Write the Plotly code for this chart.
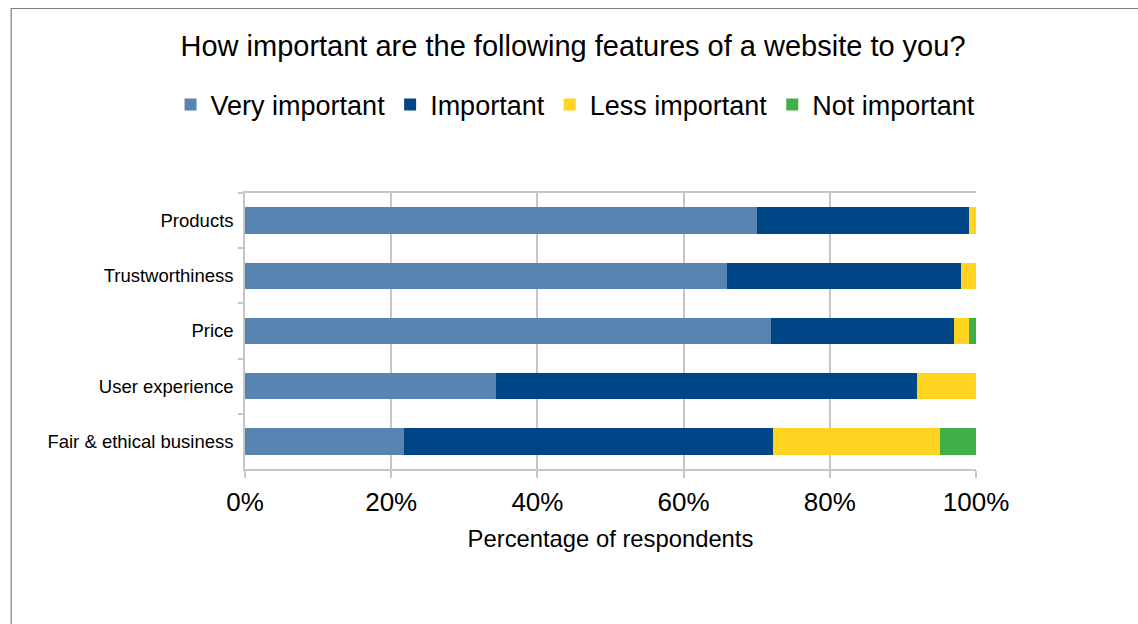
import plotly.graph_objects as go

# Survey results: share of respondents per importance level (%)
features = ["Products", "Trustworthiness", "Price", "User experience", "Fair & ethical business"]
very_important = [70, 66, 72, 34.4, 21.8]
important = [29, 32, 25, 57.5, 50.4]
less_important = [1, 2, 2, 8.1, 22.9]
not_important = [0, 0, 1, 0, 4.9]

series = [
    ("Very important", very_important, "#5983b0"),
    ("Important", important, "#004586"),
    ("Less important", less_important, "#ffd320"),
    ("Not important", not_important, "#40ae49"),
]

x_ticks = [0, 20, 40, 60, 80, 100]
x_tick_labels = ["0%", "20%", "40%", "60%", "80%", "100%"]

FONT = "Liberation Sans, Arial, sans-serif"
GRID = "#c6c6c6"

fig = go.Figure()
for name, values, color in series:
    fig.add_trace(go.Bar(
        y=features,
        x=values,
        name=name,
        orientation="h",
        marker=dict(color=color, line=dict(width=0)),
        hovertemplate="%{y}: %{x}%<extra>" + name + "</extra>",
    ))

W, H = 1138, 624
L, R, T, B = 244.5, 162, 193, 155
pw, ph = W - L - R, H - T - B

def px_x(px):
    return (px - L) / pw

def px_y(py):
    return (H - B - py) / ph

# Outer chart frame
fig.add_shape(
    type="rect", xref="paper", yref="paper",
    x0=px_x(10.5), x1=px_x(1150), y0=px_y(640), y1=px_y(8.5),
    line=dict(color="#7f7f7f", width=1.2), fillcolor="rgba(0,0,0,0)",
    layer="below",
)

fig.update_layout(
    width=W, height=H,
    margin=dict(l=L, r=R, t=T, b=B, autoexpand=False),
    barmode="stack",
    bargap=0.52,
    plot_bgcolor="white",
    paper_bgcolor="white",
    font=dict(family=FONT, color="#000000"),
    title=dict(
        text="How important are the following features of a website to you?",
        x=573 / W, xref="container", xanchor="center",
        y=1 - 46 / H, yref="container", yanchor="middle",
        font=dict(size=29, family=FONT, color="#000000"),
    ),
    legend=dict(
        orientation="h",
        x=px_x(170), xref="paper", xanchor="left",
        y=px_y(105), yref="paper", yanchor="middle",
        font=dict(size=27, family=FONT, color="#000000"),
        itemwidth=30,
        traceorder="normal",
        bgcolor="rgba(0,0,0,0)",
    ),
    xaxis=dict(
        range=[0, 100],
        tickmode="array",
        tickvals=x_ticks,
        ticktext=x_tick_labels,
        showgrid=True, gridcolor=GRID, gridwidth=1.5,
        showline=True, linecolor=GRID, linewidth=1.5, mirror=True,
        ticks="outside", ticklen=7, tickcolor=GRID, tickwidth=1.5,
        tickfont=dict(size=26, family=FONT, color="#000000"),
        ticklabelstandoff=2,
        title=dict(text="Percentage of respondents",
                   font=dict(size=23.8, family=FONT, color="#000000"),
                   standoff=14),
        zeroline=False,
        fixedrange=True,
    ),
    yaxis=dict(
        categoryorder="array",
        categoryarray=features,
        autorange="reversed",
        showgrid=False,
        showline=True, linecolor=GRID, linewidth=1.5,
        ticks="outside", ticklen=5, tickcolor=GRID, tickwidth=1.5,
        tickson="boundaries",
        tickfont=dict(size=18.5, family=FONT, color="#000000"),
        ticklabelstandoff=6,
        fixedrange=True,
    ),
)

fig.write_html("out.html")
